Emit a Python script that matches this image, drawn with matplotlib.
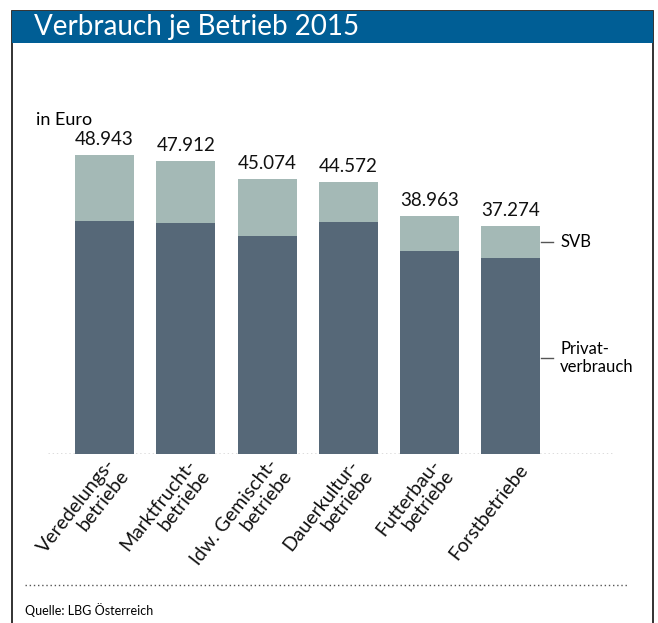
import matplotlib
matplotlib.use('Agg')
import matplotlib.pyplot as plt
from matplotlib.patches import Rectangle
from matplotlib.lines import Line2D

plt.rcParams['font.family'] = ['Lato', 'DejaVu Sans']

categories = ['Veredelungs-\nbetriebe', 'Marktfrucht-\nbetriebe', 'ldw. Gemischt-\nbetriebe',
              'Dauerkultur-\nbetriebe', 'Futterbau-\nbetriebe', 'Forstbetriebe']
totals = [48943, 47912, 45074, 44572, 38963, 37274]
privat = [38100, 37800, 35700, 37900, 33300, 32100]
svb = [t - p for t, p in zip(totals, privat)]

dark = '#566878'
light = '#a4b9b6'
blue = '#005e95'

W, H = 658, 623
fig = plt.figure(figsize=(W / 100, H / 100), dpi=100)

# frame + header band (pixel -> figure coords)
def fx(px): return px / W
def fy(py): return 1 - py / H

fig.patches.append(Rectangle((fx(12), fy(640)), fx(653) - fx(12), fy(11) - fy(640),
                             transform=fig.transFigure, fill=False, ec='#222222', lw=1.3))
fig.patches.append(Rectangle((fx(12), fy(43)), fx(653) - fx(12), fy(11) - fy(43),
                             transform=fig.transFigure, fc=blue, ec='none'))
fig.text(fx(34), fy(27), 'Verbrauch je Betrieb 2015', color='white', fontsize=20, va='center')

ax = fig.add_axes([fx(48), fy(454), fx(614) - fx(48), fy(100) - fy(454)])
x = list(range(len(categories)))
bw = 0.727
ax.axhline(0, color='#555555', lw=1, ls=(0, (1, 2)), zorder=0)
ax.bar(x, privat, width=bw, color=dark, zorder=2)
ax.bar(x, svb, bottom=privat, width=bw, color=light, zorder=2)
ax.set_xlim(-0.696, 6.27)
ax.set_ylim(0, 57950)
ax.axis('off')

for xi, t in zip(x, totals):
    ax.annotate(f'{t:,}'.replace(',', '.'), (xi, t), xytext=(0, 5), textcoords='offset points',
                ha='center', va='bottom', fontsize=13.5, color='#111111')

for xi, c in zip(x, categories):
    ax.annotate(c, (xi + 0.17, 0), xytext=(0, -9), textcoords='offset points',
                ha='right', va='center', rotation=52, rotation_mode='anchor',
                multialignment='right', fontsize=14, color='#111111', linespacing=1.05)

ax.annotate('in Euro', (-0.84, 53900), fontsize=13, ha='left', va='baseline',
            annotation_clip=False)

# legend labels next to the last bar
xl = x[-1] + bw / 2
ax.plot([xl + 0.01, xl + 0.16], [privat[-1] + svb[-1] / 2] * 2, color='#555555', lw=1, clip_on=False)
ax.plot([xl + 0.01, xl + 0.16], [privat[-1] * 0.49] * 2, color='#555555', lw=1, clip_on=False)
ax.text(xl + 0.245, privat[-1] + svb[-1] / 2, 'SVB', fontsize=12, va='center', ha='left')
ax.text(xl + 0.245, privat[-1] * 0.49, 'Privat-\nverbrauch', fontsize=12, va='center', ha='left',
        linespacing=1.15)

fig.add_artist(Line2D([fx(25), fx(629)], [fy(585), fy(585)], transform=fig.transFigure,
                      color='#555555', lw=1, ls=(0, (1, 2))))
fig.text(fx(25), fy(615), 'Quelle: LBG Österreich', fontsize=9, va='baseline', ha='left')

fig.savefig('out.png', dpi=100, facecolor='white')
